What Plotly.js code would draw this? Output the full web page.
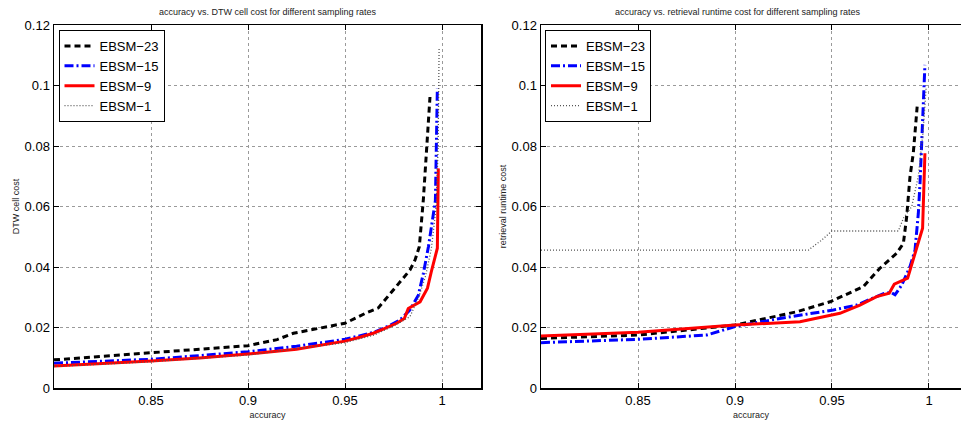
<!DOCTYPE html>
<html>
<head>
<meta charset="utf-8">
<script src="https://cdn.plot.ly/plotly-3.0.1.min.js"></script>
<style>html,body{margin:0;padding:0;background:#fff;}#chart{width:961px;height:423px;}</style>
</head>
<body>
<div id="chart"></div>
<script>
// ---- Data: left panel (DTW cell cost) ----
const seriesNames = ['EBSM\u221223', 'EBSM\u221215', 'EBSM\u22129', 'EBSM\u22121'];

const dtw23Acc = [0.8, 0.825, 0.85, 0.875, 0.9, 0.915, 0.9234, 0.95, 0.9615, 0.9672, 0.9706, 0.9749, 0.9792, 0.9835, 0.9861, 0.9883, 0.9904, 0.9918, 0.9938];
const dtw23Val = [0.0093, 0.0105, 0.0117, 0.0128, 0.014, 0.016, 0.0181, 0.0214, 0.025, 0.0265, 0.0291, 0.0324, 0.0357, 0.039, 0.0423, 0.0467, 0.0624, 0.0781, 0.0962];

const dtw15Acc = [0.8, 0.825, 0.85, 0.875, 0.9, 0.925, 0.95, 0.965, 0.9725, 0.9784, 0.9835, 0.9878, 0.9904, 0.993, 0.9966, 0.9976];
const dtw15Val = [0.0082, 0.0088, 0.0095, 0.0107, 0.012, 0.0138, 0.0161, 0.0184, 0.0205, 0.0225, 0.0258, 0.0307, 0.0379, 0.0467, 0.062, 0.099];

const dtw9Acc = [0.8, 0.825, 0.85, 0.875, 0.9, 0.925, 0.95, 0.9577, 0.9646, 0.9706, 0.9766, 0.9806, 0.9826, 0.9887, 0.9925, 0.9947, 0.9976, 0.9981];
const dtw9Val = [0.0073, 0.008, 0.0089, 0.0099, 0.0112, 0.0128, 0.0155, 0.0168, 0.0181, 0.0197, 0.0214, 0.023, 0.0263, 0.0285, 0.033, 0.039, 0.0462, 0.0726];

const dtw1Acc = [0.8, 0.85, 0.9, 0.95, 0.965, 0.975, 0.9835, 0.988, 0.9915, 0.9945, 0.997, 0.998, 0.9985];
const dtw1Val = [0.0071, 0.0087, 0.0109, 0.015, 0.0175, 0.0205, 0.0236, 0.030, 0.037, 0.046, 0.06, 0.08, 0.1124];

// ---- Data: right panel (retrieval runtime cost) ----
const rt23Acc = [0.8, 0.85, 0.9, 0.9197, 0.9318, 0.949, 0.9661, 0.9747, 0.9833, 0.9868, 0.9885, 0.9902, 0.9919, 0.9939];
const rt23Val = [0.0164, 0.0175, 0.0208, 0.0236, 0.0252, 0.0285, 0.0335, 0.0396, 0.0445, 0.0478, 0.0566, 0.0698, 0.0776, 0.093];

const rt15Acc = [0.8, 0.85, 0.8854, 0.9, 0.9232, 0.9507, 0.9627, 0.9765, 0.9805, 0.9825, 0.9859, 0.9902, 0.9928, 0.9945, 0.9954, 0.9962, 0.9971, 0.9979];
const rt15Val = [0.015, 0.0161, 0.0175, 0.0203, 0.023, 0.0258, 0.0274, 0.0312, 0.0316, 0.0308, 0.034, 0.0401, 0.0456, 0.0577, 0.068, 0.082, 0.0952, 0.1068];

const rt9Acc = [0.8, 0.85, 0.9, 0.9335, 0.9541, 0.9644, 0.973, 0.9795, 0.9821, 0.989, 0.9936, 0.9967, 0.9979];
const rt9Val = [0.0172, 0.0184, 0.0208, 0.0219, 0.0247, 0.0274, 0.0302, 0.0313, 0.0343, 0.0363, 0.0462, 0.0528, 0.0776];

const rt1Acc = [0.8, 0.85, 0.9, 0.9378, 0.9445, 0.9499, 0.97, 0.9842, 0.9868, 0.9911, 0.9945, 0.997, 0.9985];
const rt1Val = [0.0456, 0.0456, 0.0456, 0.0456, 0.0488, 0.0519, 0.0519, 0.0519, 0.0561, 0.060, 0.07, 0.085, 0.099];

// ---- Ticks ----
const xTickVals = [0.85, 0.9, 0.95, 1];
const xTickText = ['0.85', '0.9', '0.95', '1'];
const yTickVals = [0, 0.02, 0.04, 0.06, 0.08, 0.1, 0.12];
const yTickText = ['0', '0.02', '0.04', '0.06', '0.08', '0.1', '0.12'];

const styles = [
  {color: '#000000', width: 3, dash: '6px,4px'},
  {color: '#0000ff', width: 3, dash: '9px,3px,2px,3px'},
  {color: '#ff0000', width: 3, dash: 'solid'},
  {color: '#555555', width: 1.3, dash: '1px,2px'}
];

const leftData = [[dtw23Acc, dtw23Val], [dtw15Acc, dtw15Val], [dtw9Acc, dtw9Val], [dtw1Acc, dtw1Val]];
const rightData = [[rt23Acc, rt23Val], [rt15Acc, rt15Val], [rt9Acc, rt9Val], [rt1Acc, rt1Val]];

const traces = [];
leftData.forEach((d, i) => traces.push({
  x: d[0], y: d[1], type: 'scatter', mode: 'lines', name: seriesNames[i],
  line: styles[i], xaxis: 'x', yaxis: 'y', legend: 'legend'
}));
rightData.forEach((d, i) => traces.push({
  x: d[0], y: d[1], type: 'scatter', mode: 'lines', name: seriesNames[i],
  line: styles[i], xaxis: 'x2', yaxis: 'y2', legend: 'legend2'
}));

const fontFam = '"Liberation Sans", Arial, Helvetica, sans-serif';
const W = 961, H = 423, mL = 54, mR = 0, mT = 25, mB = 35;
const plotW = W - mL - mR;
const leftEnd = (481 - mL) / plotW;
const rightStart = (541 - mL) / plotW;

function xAx(domain, range, anchor) {
  return {
    domain: domain, range: range, anchor: anchor,
    tickvals: xTickVals, ticktext: xTickText,
    ticks: 'inside', ticklen: 5, tickcolor: '#000', tickwidth: 1,
    showline: true, linecolor: '#000', linewidth: 1.5, mirror: 'ticks',
    showgrid: true, gridcolor: '#9a9a9a', griddash: 'dot', gridwidth: 1,
    zeroline: false, tickfont: {size: 13, color: '#000', family: fontFam},
    title: {text: 'accuracy', font: {size: 9, color: '#222', family: fontFam}, standoff: 4},
    automargin: false
  };
}
function yAx(domain, anchor, titleText, mirror) {
  return {
    domain: domain, range: [0, 0.12], anchor: anchor,
    tickvals: yTickVals, ticktext: yTickText,
    ticks: 'inside', ticklen: 5, tickcolor: '#000', tickwidth: 1,
    showline: true, linecolor: '#000', linewidth: 1.5, mirror: mirror,
    showgrid: true, gridcolor: '#9a9a9a', griddash: 'dot', gridwidth: 1,
    zeroline: false, tickfont: {size: 13, color: '#000', family: fontFam},
    title: {text: titleText, font: {size: 9, color: '#222', family: fontFam}, standoff: 3},
    automargin: false
  };
}

const legendCommon = {
  bgcolor: '#ffffff', bordercolor: '#000000', borderwidth: 1,
  font: {size: 13, color: '#000', family: fontFam},
  xanchor: 'left', yanchor: 'top', tracegroupgap: 0, itemwidth: 30
};

const layout = {
  width: W, height: H,
  margin: {l: mL, r: mR, t: mT, b: mB},
  paper_bgcolor: '#ffffff', plot_bgcolor: '#ffffff',
  font: {family: fontFam},
  xaxis: xAx([0, leftEnd], [0.8, 1.0201], 'y'),
  yaxis: yAx([0, 1], 'x', 'DTW cell cost', 'ticks'),
  xaxis2: xAx([rightStart, 1], [0.8, 1.0165], 'y2'),
  yaxis2: yAx([0, 1], 'x2', 'retrieval runtime cost', false),
  legend: Object.assign({}, legendCommon, {x: (58.5 - mL) / plotW, y: 1 - 5 / (H - mT - mB)}),
  legend2: Object.assign({}, legendCommon, {x: (545 - mL) / plotW, y: 1 - 5 / (H - mT - mB)}),
  showlegend: true,
  annotations: [
    {text: 'accuracy vs. DTW cell cost for different sampling rates', xref: 'paper', yref: 'paper',
     x: leftEnd / 2, y: 1, yshift: 13, xanchor: 'center', yanchor: 'middle', showarrow: false,
     font: {size: 9, color: '#222', family: fontFam}},
    {text: 'accuracy vs. retrieval runtime cost for different sampling rates', xref: 'paper', yref: 'paper',
     x: (rightStart + (929 - mL) / plotW) / 2 + 0.003, y: 1, yshift: 13, xanchor: 'center', yanchor: 'middle', showarrow: false,
     font: {size: 9, color: '#222', family: fontFam}}
  ]
};

Plotly.newPlot('chart', traces, layout, {displayModeBar: false, staticPlot: true});
</script>
</body>
</html>
